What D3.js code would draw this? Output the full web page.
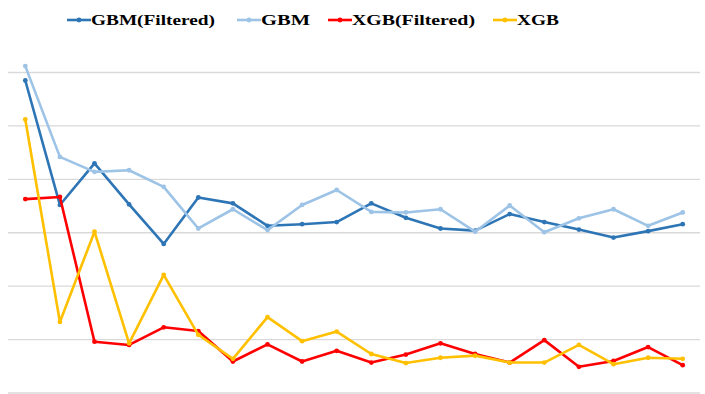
<!DOCTYPE html>
<html>
<head>
<meta charset="utf-8">
<script src="https://cdn.jsdelivr.net/npm/d3@7"></script>
<style>
  body { margin: 0; background: #fff; }
  svg { display: block; }
</style>
</head>
<body>
<div id="chart"></div>
<script>
// values (no axis labels shown, arbitrary units)
const steps = d3.range(1, 21);
const gbmFiltered = [5.85, 3.52, 4.30, 3.53, 2.79, 3.66, 3.55, 3.13, 3.16, 3.20,
  3.55, 3.28, 3.08, 3.04, 3.35, 3.20, 3.06, 2.91, 3.03, 3.16];
const gbm = [6.12, 4.42, 4.14, 4.17, 3.86, 3.08, 3.44, 3.05, 3.52, 3.80,
  3.39, 3.38, 3.44, 3.02, 3.51, 3.01, 3.27, 3.44, 3.13, 3.38];
const xgbFiltered = [3.63, 3.67, 0.96, 0.90, 1.23, 1.16, 0.59, 0.91, 0.59, 0.79,
  0.57, 0.72, 0.93, 0.73, 0.57, 0.99, 0.49, 0.60, 0.86, 0.52];
const xgb = [5.12, 1.33, 3.02, 0.93, 2.21, 1.09, 0.64, 1.42, 0.97, 1.15,
  0.73, 0.56, 0.66, 0.70, 0.57, 0.57, 0.90, 0.54, 0.66, 0.64];
const yTicks = [0, 1, 2, 3, 4, 5, 6];

const series = [
  { name: "GBM(Filtered)", values: gbmFiltered, color: "#2E75B6" },
  { name: "GBM", values: gbm, color: "#9DC3E6" },
  { name: "XGB(Filtered)", values: xgbFiltered, color: "#FF0000" },
  { name: "XGB", values: xgb, color: "#FFC000" }
];

const width = 705, height = 394;
const svg = d3.select("#chart").append("svg")
  .attr("width", width)
  .attr("height", height);

const x = d3.scalePoint().domain(steps).range([8, 700]).padding(0.5);
const y = d3.scaleLinear().domain([0, 6]).range([393, 72.5]);

// gridlines
svg.append("g").selectAll("line")
  .data(yTicks)
  .enter().append("line")
  .attr("x1", 8)
  .attr("x2", 700)
  .attr("y1", d => y(d))
  .attr("y2", d => y(d))
  .style("stroke", "#d9d9d9")
  .style("stroke-width", 1.3);

const line = d3.line()
  .x((d, i) => x(steps[i]))
  .y(d => y(d));

const g = svg.selectAll(".series")
  .data(series)
  .enter().append("g")
  .attr("class", "series");

g.append("path")
  .attr("d", d => line(d.values))
  .style("fill", "none")
  .style("stroke", d => d.color)
  .style("stroke-width", 2.6)
  .style("stroke-linejoin", "round");

g.selectAll("circle")
  .data(d => d.values.map(v => ({ v: v, color: d.color })))
  .enter().append("circle")
  .attr("cx", (d, i) => x(steps[i]))
  .attr("cy", d => y(d.v))
  .attr("r", 2.4)
  .style("fill", d => d.color);

// legend (text is stretched horizontally in the original)
const legendPos = [
  { x: 67, w: 124 },
  { x: 237, w: 49 },
  { x: 328, w: 123 },
  { x: 493, w: 42 }
];
const legend = svg.append("g").selectAll("g")
  .data(series)
  .enter().append("g")
  .attr("transform", (d, i) => "translate(" + legendPos[i].x + ",20)");

legend.append("line")
  .attr("x1", 0).attr("x2", 24)
  .style("stroke", d => d.color)
  .style("stroke-width", 2.6);
legend.append("circle")
  .attr("cx", 12).attr("r", 2.4)
  .style("fill", d => d.color);
legend.append("text")
  .attr("x", 24)
  .attr("dy", "0.35em")
  .attr("textLength", (d, i) => legendPos[i].w)
  .attr("lengthAdjust", "spacingAndGlyphs")
  .style("font-family", "'Liberation Serif', 'Times New Roman', serif")
  .style("font-weight", "bold")
  .style("font-size", "15px")
  .style("fill", "#000")
  .text(d => d.name);
</script>
</body>
</html>
